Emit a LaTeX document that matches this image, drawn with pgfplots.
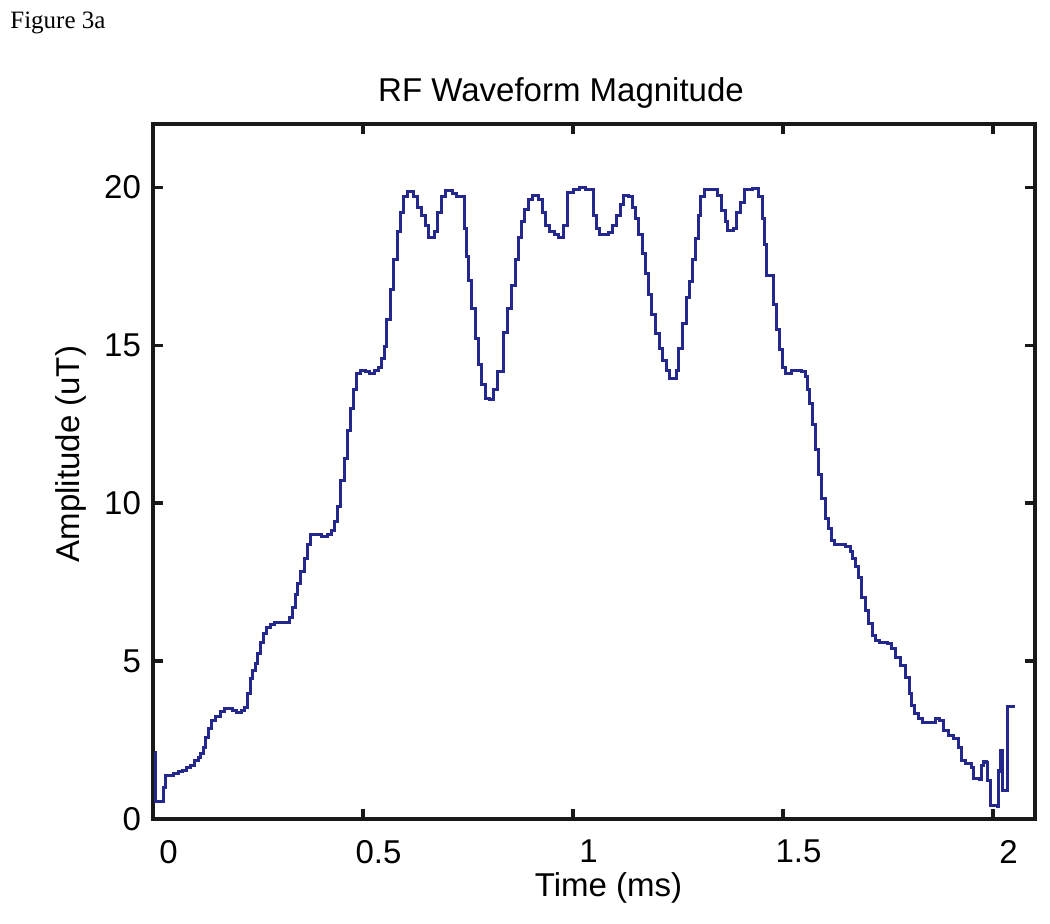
\documentclass[border=0pt]{standalone}
\usepackage{pgfplots}
\pgfplotsset{compat=1.18}
\usepackage{fontspec}
\setmainfont{Liberation Sans}
\newfontfamily\timesfont{Liberation Serif}
\definecolor{wave}{RGB}{36,40,140}
\definecolor{axisblack}{RGB}{25,25,25}

\begin{document}
\begin{tikzpicture}
\useasboundingbox (-76.5pt,-52.5pt) rectangle (448.5pt,409.5pt);
\node[anchor=base west, inner sep=0pt, font=\timesfont\fontsize{12.5}{15}\selectfont] at (-71.5pt,395pt) {Figure 3a};
\begin{axis}[
    width=441pt, height=347.5pt, scale only axis,
    xmin=0, xmax=2.1, ymin=0, ymax=22,
    xtick={0,0.5,1,1.5,2}, xticklabels={0,0.5,1,1.5,2},
    ytick={0,5,10,15,20}, yticklabels={0,5,10,15,20},
    tick align=inside,
    major tick length=5pt,
    axis line style={line width=1.6pt, draw=axisblack},
    every tick/.style={line width=1.6pt, axisblack},
    tick label style={font=\fontsize{16.5}{19}\selectfont, /pgf/number format/assume math mode=true},
    xticklabel style={xshift=7.75pt, yshift=-7pt},
    yticklabel style={xshift=-2.5pt},
    every axis title shift=0pt,
    title={RF Waveform Magnitude},
    title style={at={(axis description cs:0.4626,1.0317)}, anchor=base, font=\fontsize{16.5}{19}\selectfont},
    xlabel={Time (ms)},
    xlabel style={at={(axis description cs:0.5165,-0.112)}, anchor=base, font=\fontsize{16.5}{19}\selectfont},
    ylabel={Amplitude (uT)},
    ylabel style={at={(axis description cs:-0.0828,0.525)}, anchor=base, rotate=0, font=\fontsize{16.5}{19}\selectfont},
]
% RF magnitude, piecewise constant samples
\addplot[const plot, wave, line width=1.5pt] coordinates {
(0.004,2.10) (0.006,0.54) (0.026,1.00) (0.030,1.39) (0.040,1.39) (0.048,1.45)
(0.060,1.50) (0.070,1.55) (0.080,1.62) (0.090,1.70) (0.098,1.86) (0.108,1.96)
(0.114,2.08) (0.120,2.27) (0.126,2.59) (0.133,2.85) (0.140,3.12) (0.150,3.25)
(0.160,3.40) (0.170,3.50) (0.180,3.50) (0.190,3.45) (0.200,3.38) (0.210,3.45)
(0.217,3.53) (0.224,3.97) (0.231,4.45) (0.238,4.70) (0.245,4.92) (0.250,5.24)
(0.255,5.58) (0.262,5.87) (0.270,6.06) (0.280,6.15) (0.290,6.21) (0.310,6.21)
(0.325,6.37) (0.333,6.69) (0.340,7.10) (0.345,7.44) (0.352,7.85) (0.360,8.26)
(0.367,8.70) (0.374,9.02) (0.390,9.00) (0.400,8.93) (0.415,9.00) (0.425,9.12)
(0.433,9.43) (0.440,9.90) (0.446,10.70) (0.455,11.40) (0.463,12.30) (0.470,13.00)
(0.477,13.60) (0.485,14.10) (0.495,14.20) (0.505,14.15) (0.515,14.10) (0.527,14.20)
(0.536,14.30) (0.545,14.57) (0.550,14.95) (0.557,15.80) (0.565,16.75) (0.573,17.70)
(0.581,18.60) (0.589,19.20) (0.597,19.70) (0.607,19.85) (0.620,19.70) (0.630,19.37)
(0.640,19.10) (0.648,18.80) (0.656,18.40) (0.671,18.60) (0.678,19.20) (0.686,19.70)
(0.696,19.90) (0.712,19.80) (0.722,19.70) (0.742,18.70) (0.747,17.80) (0.752,17.06)
(0.758,16.15) (0.767,15.20) (0.776,14.40) (0.783,13.75) (0.792,13.30) (0.800,13.28)
(0.810,13.60) (0.820,14.16) (0.834,15.40) (0.845,16.15) (0.854,16.90) (0.862,17.70)
(0.870,18.40) (0.877,18.90) (0.885,19.30) (0.893,19.60) (0.903,19.75) (0.918,19.60)
(0.928,19.20) (0.935,18.80) (0.944,18.60) (0.955,18.50) (0.965,18.40) (0.978,18.80)
(0.986,19.84) (1.000,19.94) (1.015,20.00) (1.030,19.94) (1.048,19.10) (1.056,18.70)
(1.064,18.50) (1.085,18.58) (1.094,18.80) (1.104,19.10) (1.112,19.46) (1.120,19.75)
(1.133,19.70) (1.142,19.37) (1.149,19.00) (1.157,18.50) (1.166,17.90) (1.172,17.26)
(1.180,16.60) (1.188,15.96) (1.196,15.36) (1.206,14.90) (1.214,14.50) (1.222,14.20)
(1.230,13.94) (1.246,14.20) (1.252,14.90) (1.260,15.70) (1.270,16.50) (1.278,17.00)
(1.285,17.70) (1.292,18.36) (1.298,19.10) (1.303,19.70) (1.312,19.94) (1.345,19.75)
(1.354,19.27) (1.362,18.90) (1.368,18.64) (1.383,18.70) (1.390,19.20) (1.398,19.50)
(1.408,19.94) (1.428,19.97) (1.441,19.70) (1.450,19.00) (1.456,18.20) (1.461,17.20)
(1.478,16.30) (1.484,15.50) (1.491,14.86) (1.498,14.30) (1.505,14.10) (1.520,14.20)
(1.545,14.16) (1.553,14.00) (1.558,13.60) (1.564,13.15) (1.570,12.50) (1.577,11.70)
(1.584,10.90) (1.592,10.16) (1.600,9.50) (1.608,9.18) (1.615,8.80) (1.623,8.70)
(1.640,8.70) (1.648,8.64) (1.660,8.48) (1.666,8.26) (1.672,8.00) (1.680,7.63)
(1.688,7.00) (1.697,6.60) (1.704,6.18) (1.712,5.80) (1.720,5.65) (1.730,5.58)
(1.748,5.55) (1.758,5.40) (1.768,5.10) (1.780,4.86) (1.792,4.48) (1.800,3.97)
(1.807,3.60) (1.814,3.34) (1.822,3.19) (1.832,3.06) (1.855,3.06) (1.862,3.19)
(1.872,3.12) (1.882,2.80) (1.893,2.65) (1.905,2.56) (1.918,2.27) (1.924,1.86)
(1.935,1.77) (1.948,1.64) (1.953,1.29) (1.968,1.26) (1.972,1.70) (1.977,1.83)
(1.984,1.80) (1.987,1.23) (1.993,0.44) (2.010,0.38) (2.012,1.55) (2.017,2.18)
(2.019,1.50) (2.021,2.18) (2.023,0.91) (2.035,3.55) (2.052,3.55)
};
\end{axis}
\end{tikzpicture}
\end{document}
